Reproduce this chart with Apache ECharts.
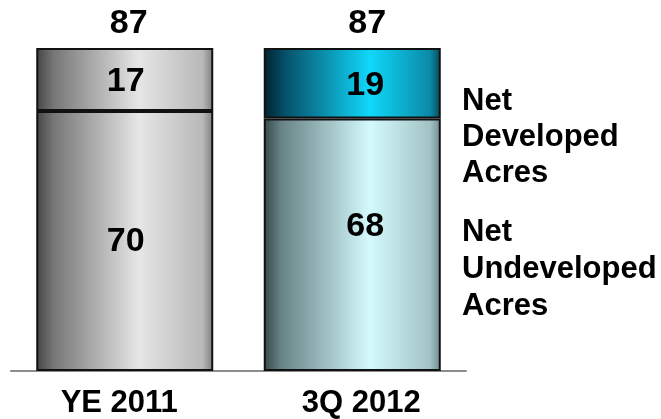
<!DOCTYPE html>
<html>
<head>
<meta charset="utf-8">
<script src="https://cdn.jsdelivr.net/npm/echarts@6/dist/echarts.min.js"></script>
<style>
  html, body { margin: 0; padding: 0; background: #fff; }
  #chart { width: 661px; height: 419px; }
</style>
</head>
<body>
<div id="chart"></div>
<script>
// Net acreage (thousands) by period
const categories = ['YE 2011', '3Q 2012'];
const developed = [17, 19];
const undeveloped = [70, 68];
const totals = categories.map((_, i) => developed[i] + undeveloped[i]);

const FONT = '"Liberation Sans", Arial, Helvetica, sans-serif';

function hGrad(stops) {
  return new echarts.graphic.LinearGradient(0, 0, 1, 0,
    stops.map(([offset, color]) => ({ offset, color })));
}

// Per-bar fills: grey for the year-end bar, teal for the quarter bar
const fills = {
  undeveloped: [
    hGrad([[0, '#444'], [0.1, '#777'], [0.58, '#e6e6e6'], [0.94, '#b8b8b8'], [1, '#7c7c7c']]),
    hGrad([[0, '#36494c'], [0.1, '#688386'], [0.6, '#d4fafd'], [0.94, '#a2c2c5'], [1, '#6f8d90']])
  ],
  developed: [
    hGrad([[0, '#444'], [0.1, '#777'], [0.58, '#e6e6e6'], [0.94, '#b8b8b8'], [1, '#7c7c7c']]),
    hGrad([[0, '#02222c'], [0.12, '#06506a'], [0.6, '#10d8fa'], [0.94, '#0a8aa6'], [1, '#05485a']])
  ]
};

const valueLabel = { show: true, fontFamily: FONT, fontWeight: 'bold', fontSize: 34, color: '#000' };
const labelOffsets = {
  developed: [[1, 2], [13, 2]],
  undeveloped: [[1, 1], [13, -18]],
  totals: [[4, 0], [15, 0]]
};

const chart = echarts.init(document.getElementById('chart'), null, { renderer: 'canvas' });

chart.setOption({
  animation: false,
  grid: { left: 11, right: 195, top: 48, bottom: 42 },
  xAxis: {
    type: 'category',
    data: categories,
    axisTick: { show: false },
    axisLine: { show: true, lineStyle: { color: '#8c8c8c', width: 2 } },
    axisLabel: {
      margin: 17,
      formatter: (v, i) => i === 0 ? '{a|' + v + '}' : '{b|' + v + '}',
      rich: {
        a: { fontFamily: FONT, fontWeight: 'bold', fontSize: 31, color: '#000', padding: [0, 11, 0, 0] },
        b: { fontFamily: FONT, fontWeight: 'bold', fontSize: 31, color: '#000', padding: [0, 0, 0, 18] }
      }
    }
  },
  yAxis: { type: 'value', min: 0, max: 87, show: false, splitLine: { show: false } },
  series: [
    {
      name: 'Net Undeveloped Acres',
      type: 'bar',
      stack: 'acres',
      barWidth: 177,
      data: undeveloped.map((v, i) => ({
        value: v,
        itemStyle: { color: fills.undeveloped[i] },
        label: Object.assign({}, valueLabel, { position: 'inside', offset: labelOffsets.undeveloped[i] })
      })),
      itemStyle: { borderColor: '#111', borderWidth: 2 }
    },
    {
      name: 'Net Developed Acres',
      type: 'bar',
      stack: 'acres',
      barWidth: 177,
      data: developed.map((v, i) => ({
        value: v,
        itemStyle: { color: fills.developed[i] },
        label: Object.assign({}, valueLabel, { position: 'inside', offset: labelOffsets.developed[i] })
      })),
      itemStyle: { borderColor: '#111', borderWidth: 2 }
    },
    {
      name: 'Total',
      type: 'bar',
      barWidth: 177,
      barGap: '-100%',
      silent: true,
      z: 1,
      itemStyle: { color: 'rgba(0,0,0,0)' },
      data: totals.map((v, i) => ({
        value: v,
        label: Object.assign({}, valueLabel, { position: 'top', distance: 7, offset: labelOffsets.totals[i] })
      }))
    }
  ],
  graphic: [
    {
      type: 'text', left: 462, top: 83,
      style: { text: 'Net\nDeveloped\nAcres', font: 'bold 31px ' + FONT, lineHeight: 36, fill: '#000' }
    },
    {
      type: 'text', left: 462, top: 214,
      style: { text: 'Net\nUndeveloped\nAcres', font: 'bold 31px ' + FONT, lineHeight: 37, fill: '#000' }
    }
  ]
});
</script>
</body>
</html>
